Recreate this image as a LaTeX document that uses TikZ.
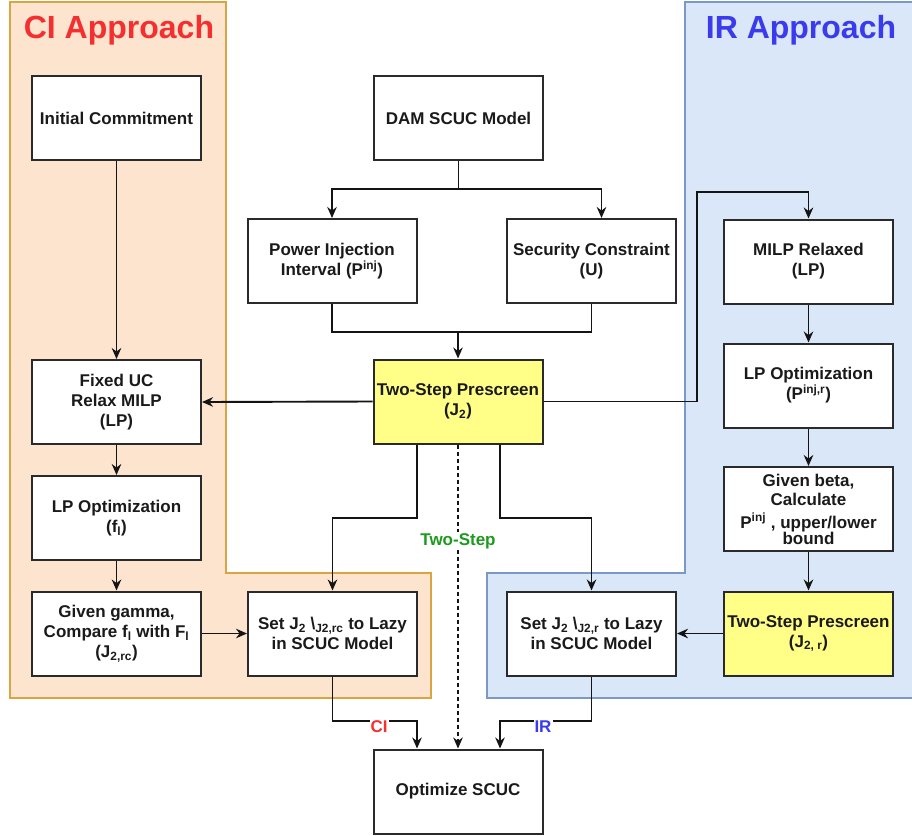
\documentclass[tikz,border=0pt]{standalone}
\usepackage{fontspec}
\setmainfont{Liberation Sans}
\usetikzlibrary{arrows.meta}

\definecolor{ciFill}{HTML}{FCE4CE}
\definecolor{ciLine}{HTML}{D9A540}
\definecolor{irFill}{HTML}{DAE7F8}
\definecolor{irLine}{HTML}{7C98C4}
\definecolor{boxLine}{HTML}{2A2A2A}
\definecolor{hiFill}{HTML}{FFFF88}
\definecolor{ciText}{HTML}{F52F2F}
\definecolor{irText}{HTML}{3A3AEE}
\definecolor{tsText}{HTML}{1E9A1E}
\definecolor{inkText}{HTML}{1A1A1A}

\tikzset{
  box/.style={draw=boxLine, line width=2pt, fill=white, minimum width=169pt,
    minimum height=84pt, align=center, text=inkText, inner sep=2pt,
    font=\fontsize{17}{20}\selectfont\bfseries},
  hibox/.style={box, fill=hiFill},
  flow/.style={line width=1.9pt, draw=black!92, -{Stealth[length=11pt,width=9.5pt]}},
  plain/.style={line width=1.9pt, draw=black!92},
  title/.style={font=\fontsize{32}{36}\selectfont\bfseries},
  tag/.style={font=\fontsize{17}{20}\selectfont\bfseries, fill=white, inner sep=1pt}
}

\begin{document}
\begin{tikzpicture}[x=1pt,y=-1pt]
\useasboundingbox (0,0) rectangle (912,835);
\fill[white] (0,0) rectangle (912,835);

% approach regions
\draw[fill=ciFill, draw=ciLine, line width=1.6pt]
  (10,2) -- (226,2) -- (226,573) -- (431,573) -- (431,698) -- (10,698) -- cycle;
\draw[fill=irFill, draw=irLine, line width=1.6pt]
  (685,2) -- (918,2) -- (918,698) -- (487,698) -- (487,573) -- (685,573) -- cycle;

\node[title, text=ciText] (citl) at (119,30) {CI Approach};
\node[title, text=irText] (irtl) at (801,30) {IR Approach};

% boxes
\node[box] (ic)    at (116.5,118)   {Initial Commitment};
\node[box] (dam)   at (458.5,118)   {DAM SCUC Model};
\node[box] (pinj)  at (332,261)     {Power Injection\\Interval (P\textsuperscript{inj})};
\node[box] (sec)   at (591.5,261)   {Security Constraint\\(U)};
\node[box] (milp)  at (808.5,261.5) {MILP Relaxed\\(LP)};
\node[hibox] (tsp) at (458,401.5)   {Two-Step Prescreen\\(J\textsubscript{2})};
\node[box] (fix)   at (116.5,402)   {Fixed UC\\Relax MILP\\(LP)};
\node[box] (lpr)   at (808.5,385.5) {LP Optimization\\(P\textsuperscript{inj,r})};
\node[box] (lpf)   at (116.5,518)   {LP Optimization\\(f\textsubscript{l})};
\node[box, font=\fontsize{17}{19}\selectfont\bfseries] (beta) at (808.5,509)
  {Given beta,\\Calculate\\[4pt]P\textsuperscript{inj} , upper/lower\\[-3pt]bound};
\node[box] (gam)   at (116.5,633.5) {Given gamma,\\Compare f\textsubscript{l} with F\textsubscript{l}\\(J\textsubscript{2,rc})};
\node[box] (setci) at (332.5,633.5) {Set J\textsubscript{2} \textbackslash\textsubscript{J2,rc} to Lazy\\in SCUC Model};
\node[box] (setir) at (591.5,633.5) {Set J\textsubscript{2} \textbackslash\textsubscript{J2,r} to Lazy\\in SCUC Model};
\node[hibox] (tsr) at (808.5,633.5) {Two-Step Prescreen\\(J\textsubscript{2, r})};
\node[box] (opt)   at (458,791.5)   {Optimize SCUC};

% CI column
\draw[flow] (ic) -- (fix);
\draw[flow] (fix) -- (lpf);
\draw[flow] (lpf) -- (gam);
\draw[flow] (gam) -- (setci);

% model split and merge
\draw[plain] (dam.south) -- (458.5,189);
\draw[flow] (458.5,189) -| (pinj.north);
\draw[flow] (458.5,189) -| ([xshift=10pt]sec.north);
\draw[plain] (pinj.south) |- (591.5,332) -- (sec.south);
\draw[flow] (458,332) -- (tsp.north);

% prescreen outputs
\draw[flow] (tsp.west) -- (fix.east);
\draw[flow] (tsp.east) -- (697,401.5) |- (808.5,192) -- (milp.north);
\draw[flow] ([xshift=-41pt]tsp.south) |- (332.5,518) -- (setci.north);
\draw[flow] ([xshift=42pt]tsp.south) |- (591.5,518) -- (setir.north);
\draw[flow, dash pattern=on 4pt off 3pt] (tsp.south) -- (opt.north);
\node[tag, text=tsText] (tslbl) at (458,541) {Two-Step};

% IR column
\draw[flow] (milp) -- (lpr);
\draw[flow] (lpr) -- (beta);
\draw[flow] (beta) -- (tsr);
\draw[flow] (tsr) -- (setir);

% to final optimization
\draw[flow] (setci.south) |- (417,721) -- ([xshift=-41pt]opt.north);
\draw[flow] (setir.south) |- (500,721) -- ([xshift=42pt]opt.north);
\node[tag, text=ciText] (cilbl) at (379,727) {CI};
\node[tag, text=irText] (irlbl) at (543,727) {IR};
\end{tikzpicture}
\end{document}
